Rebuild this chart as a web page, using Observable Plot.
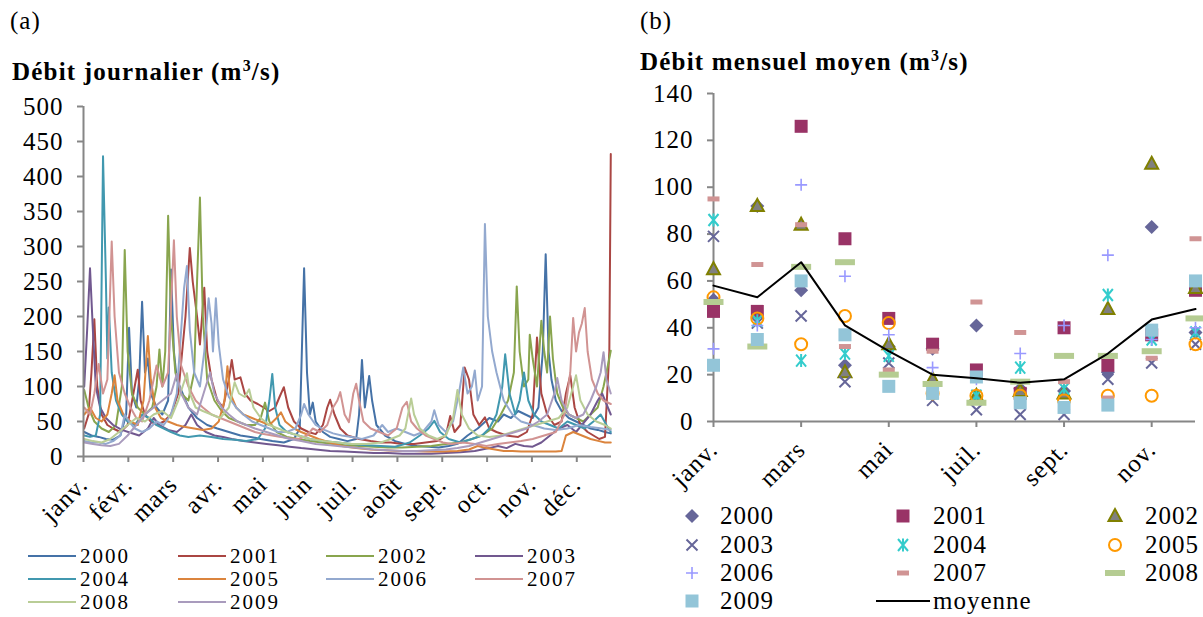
<!DOCTYPE html>
<html><head><meta charset="utf-8">
<script src="https://cdn.jsdelivr.net/npm/d3@7"></script>
<script src="https://cdn.jsdelivr.net/npm/@observablehq/plot@0.6"></script>
<style>
body{margin:0;background:#fff;}
#root{position:relative;width:1203px;height:617px;overflow:hidden;font-family:"Liberation Serif","Times New Roman",serif;color:#000;}
#root svg{position:absolute;}
</style></head><body><div id="root"></div>
<script>
// ---------- Panel (a): daily discharge, [day index, m3/s] ----------
const monthsA = ["janv.","févr.","mars","avr.","mai","juin","juil.","août","sept.","oct.","nov.","déc."];
const dayTicks = [0,31,62,93,124,155,186,217,248,279,310,341];
const years = ["2000","2001","2002","2003","2004","2005","2006","2007","2008","2009"];

const q2000 = [[0,35],[5,30],[10,28],[15,25],[20,24],[25,30],[29,60],[31,184],[33,90],[36,70],[38,110],[40,221],[42,120],[44,140],[46,90],[50,70],[54,60],[58,80],[60,267],[62,150],[64,110],[68,90],[72,70],[78,55],[85,45],[92,40],[100,35],[108,30],[115,28],[122,25],[130,22],[138,20],[145,25],[149,40],[152,269],[154,120],[156,60],[158,77],[160,50],[165,35],[170,28],[176,25],[182,22],[188,25],[190,60],[192,138],[194,70],[197,115],[199,80],[202,45],[208,30],[215,22],[222,18],[230,15],[238,14],[245,13],[252,15],[258,18],[265,30],[272,40],[280,55],[286,50],[290,60],[295,55],[300,65],[305,60],[310,55],[314,70],[317,150],[319,289],[321,150],[323,110],[326,80],[330,65],[335,55],[340,50],[345,45],[350,40],[355,38],[360,35],[364,33]];
const q2001 = [[0,40],[3,60],[5,120],[7,196],[9,100],[12,60],[16,45],[20,40],[25,35],[30,45],[34,90],[37,124],[39,80],[42,60],[46,50],[50,45],[55,50],[60,60],[65,90],[70,200],[73,298],[75,250],[78,200],[80,160],[83,241],[85,150],[88,110],[92,80],[96,70],[100,110],[102,138],[104,110],[108,113],[111,90],[115,80],[120,75],[124,70],[128,65],[132,70],[135,85],[138,99],[141,70],[145,50],[150,40],[155,35],[160,32],[165,45],[168,70],[170,81],[173,60],[177,40],[182,30],[190,25],[198,22],[205,20],[212,20],[220,18],[228,18],[236,20],[244,22],[250,30],[253,58],[256,35],[260,45],[263,127],[266,110],[269,60],[273,45],[277,56],[280,40],[285,35],[292,30],[300,28],[306,35],[310,60],[313,170],[316,90],[320,60],[325,45],[330,50],[333,90],[336,116],[339,70],[343,45],[348,35],[352,30],[356,25],[360,28],[363,150],[364,432]];
const q2002 = [[0,95],[3,70],[7,50],[12,40],[17,35],[22,45],[26,100],[28,295],[30,150],[33,90],[37,70],[42,60],[47,70],[50,100],[52,153],[54,100],[56,150],[58,344],[60,200],[63,120],[67,90],[72,80],[76,120],[78,250],[80,370],[82,200],[85,110],[90,80],[95,65],[100,55],[106,50],[112,45],[118,45],[122,55],[125,77],[128,50],[133,35],[140,28],[148,25],[156,22],[164,20],[172,18],[180,16],[190,15],[200,14],[210,13],[220,13],[230,14],[240,15],[250,18],[260,20],[268,25],[275,30],[282,40],[288,60],[293,80],[297,120],[299,243],[301,150],[304,100],[307,110],[308,174],[310,140],[313,100],[316,194],[318,150],[320,120],[322,200],[324,140],[327,90],[331,70],[335,60],[340,55],[345,50],[350,60],[355,70],[359,100],[362,130],[364,151]];
const q2003 = [[0,100],[2,180],[4,269],[6,180],[8,100],[11,70],[15,55],[20,45],[26,38],[32,34],[38,30],[44,40],[48,55],[52,45],[58,38],[64,35],[70,45],[74,60],[78,45],[84,35],[90,30],[96,28],[102,25],[110,22],[118,20],[126,18],[134,16],[142,14],[150,12],[160,10],[170,8],[180,7],[190,6],[200,5],[210,5],[220,4],[230,4],[240,4],[250,5],[260,6],[270,8],[280,12],[286,15],[292,12],[298,18],[304,15],[310,14],[316,20],[322,30],[328,40],[334,45],[340,35],[346,50],[350,60],[355,80],[358,90],[362,70],[364,60]];
const q2004 = [[0,30],[4,28],[8,30],[11,60],[13,429],[15,250],[16,140],[17,213],[19,120],[22,80],[26,60],[30,50],[35,45],[40,60],[45,55],[50,45],[55,40],[60,35],[66,30],[72,28],[80,30],[88,28],[96,25],[104,24],[112,22],[120,25],[125,40],[128,80],[130,118],[132,70],[135,45],[140,35],[148,30],[156,25],[165,22],[175,20],[185,18],[195,16],[205,15],[215,14],[225,20],[232,30],[238,40],[242,51],[246,35],[252,25],[260,20],[268,25],[275,30],[280,40],[285,60],[289,100],[291,146],[294,90],[298,60],[301,80],[304,120],[307,80],[311,60],[316,50],[322,45],[328,40],[334,50],[340,45],[346,40],[352,50],[357,60],[361,45],[364,35]];
const q2005 = [[0,60],[4,70],[8,55],[12,50],[16,60],[19,90],[21,116],[23,80],[27,60],[32,50],[37,45],[41,80],[44,172],[46,110],[49,70],[53,55],[58,50],[64,45],[70,42],[76,40],[82,38],[88,40],[93,50],[97,80],[99,129],[101,90],[105,70],[110,60],[116,55],[122,50],[128,45],[133,55],[136,63],[139,50],[145,40],[150,35],[156,30],[162,25],[170,20],[178,15],[188,12],[198,10],[208,9],[218,8],[228,8],[238,7],[248,7],[258,8],[266,10],[272,15],[278,12],[284,10],[290,8],[296,8],[302,7],[308,7],[314,7],[320,7],[326,7],[330,8],[333,30],[338,35],[344,30],[350,25],[356,22],[360,20],[364,20]];
const q2006 = [[0,22],[5,20],[10,20],[15,18],[20,22],[25,30],[28,60],[31,50],[35,40],[40,35],[45,40],[50,50],[55,45],[60,60],[64,90],[67,180],[69,240],[71,272],[73,180],[76,120],[80,100],[83,150],[86,226],[88,190],[89,150],[91,226],[93,160],[96,110],[100,85],[105,70],[110,60],[116,50],[122,45],[128,40],[134,35],[140,35],[146,40],[150,60],[152,75],[155,60],[160,45],[166,38],[172,33],[178,30],[185,28],[192,25],[200,30],[206,45],[210,35],[216,40],[222,35],[228,30],[234,35],[240,50],[242,66],[245,45],[250,35],[255,50],[259,90],[262,127],[265,90],[268,100],[270,123],[272,80],[275,100],[277,332],[279,200],[282,150],[285,120],[290,80],[296,60],[302,50],[310,45],[318,40],[326,38],[334,40],[342,45],[350,42],[358,40],[364,38]];
const q2007 = [[0,70],[4,60],[7,90],[10,132],[13,90],[16,110],[19,307],[21,200],[24,120],[28,90],[32,70],[36,55],[40,50],[45,80],[50,130],[54,100],[58,120],[62,309],[64,200],[67,130],[72,100],[77,80],[82,70],[88,60],[94,55],[100,50],[106,45],[112,40],[118,35],[124,32],[130,30],[136,28],[142,26],[148,25],[154,30],[158,40],[163,35],[168,45],[172,70],[175,80],[177,92],[180,60],[183,49],[186,90],[188,104],[190,80],[193,50],[198,40],[204,35],[210,30],[216,40],[220,70],[223,78],[226,50],[230,40],[236,30],[242,25],[248,20],[254,18],[262,20],[270,18],[278,15],[286,18],[294,20],[302,22],[310,25],[318,30],[326,35],[332,60],[336,120],[338,198],[340,150],[342,177],[344,190],[346,212],[348,150],[351,110],[355,90],[359,80],[364,75]];
const q2008 = [[0,25],[6,22],[12,20],[18,25],[24,35],[30,45],[36,55],[42,50],[48,60],[54,65],[60,55],[65,80],[68,100],[71,119],[73,90],[77,70],[82,65],[88,60],[94,55],[100,70],[104,106],[107,90],[111,85],[114,96],[117,70],[122,55],[128,45],[134,40],[140,35],[148,30],[156,25],[165,22],[175,20],[185,18],[195,18],[205,20],[212,25],[218,30],[222,40],[226,83],[228,60],[232,40],[238,30],[244,25],[250,30],[255,55],[258,95],[261,60],[266,40],[272,30],[280,28],[288,30],[296,35],[304,40],[312,45],[320,50],[328,55],[334,70],[338,100],[340,116],[343,80],[348,60],[354,50],[360,45],[364,40]];
const q2009 = [[0,20],[6,18],[12,16],[18,15],[24,18],[30,30],[36,45],[42,60],[48,70],[54,80],[60,90],[64,118],[67,90],[72,70],[78,60],[84,100],[87,120],[90,90],[95,70],[100,60],[106,50],[112,45],[118,40],[126,35],[134,30],[142,25],[150,22],[160,18],[170,16],[180,14],[190,12],[200,10],[210,9],[220,8],[230,8],[240,9],[250,10],[258,12],[266,15],[274,20],[282,25],[290,30],[298,35],[306,40],[314,50],[320,60],[325,90],[327,112],[330,80],[335,60],[340,55],[345,60],[350,80],[354,100],[357,120],[359,149],[361,110],[364,90]];
const dailySeries = [q2000,q2001,q2002,q2003,q2004,q2005,q2006,q2007,q2008,q2009];
const lineColors = ["#4572A7","#AA4643","#89A54E","#71588F","#4198AF","#DB843D","#93A9CF","#D19392","#B9CD96","#A99BBD"];
const yTicksA = [0,50,100,150,200,250,300,350,400,450,500];

// ---------- Panel (b): monthly mean discharge ----------
const monthTicksB = [1,3,5,7,9,11];
const monthLabelsB = ["janv.","mars","mai","juil.","sept.","nov."];
const yTicksB = [0,20,40,60,80,100,120,140];
const m2000 = [52,92,56,24,32,31,41,14,13,21,83,38];
const m2001 = [47,47,126,78,44,33,22,12,40,24,37,56];
const m2002 = [65,92,84,21,33,18,11,13,12,48,110,57];
const m2003 = [79,42,45,17,25,9,5,3,3,18,25,33];
const m2004 = [86,43,26,29,28,12,11,23,14,54,35,38];
const m2005 = [53,44,33,45,42,12,11,11,9,11,11,33];
const m2006 = [31,41,101,62,37,23,18,29,41,71,35,40];
const m2007 = [95,67,84,32,22,30,51,38,17,10,27,78];
const m2008 = [51,32,66,68,20,16,8,17,28,28,30,44];
const m2009 = [24,35,60,37,15,12,19,8,6,7,39,60];
const moyenne = [58,53,68,41,30,20,18.5,16.5,18,29,43.5,48];
const monthlySeries = [m2000,m2001,m2002,m2003,m2004,m2005,m2006,m2007,m2008,m2009];

// ---------- marker symbols (styles) ----------
const symDiamond = {draw(c){c.moveTo(0,-7);c.lineTo(7,0);c.lineTo(0,7);c.lineTo(-7,0);c.closePath();}};
const symSquare = {draw(c){c.rect(-6.5,-6.5,13,13);}};
const symTriangle = {draw(c){c.moveTo(0,-7);c.lineTo(6.5,5);c.lineTo(-6.5,5);c.closePath();}};
const symTimes = {draw(c){c.moveTo(-5.5,-5.5);c.lineTo(5.5,5.5);c.moveTo(5.5,-5.5);c.lineTo(-5.5,5.5);}};
const symAsterisk = {draw(c){c.moveTo(-5,-6);c.lineTo(5,6);c.moveTo(5,-6);c.lineTo(-5,6);c.moveTo(0,-6.5);c.lineTo(0,6.5);}};
const symCircle = {draw(c){c.moveTo(6,0);c.arc(0,0,6,0,2*Math.PI);}};
const symPlus = {draw(c){c.moveTo(-6,0);c.lineTo(6,0);c.moveTo(0,-6);c.lineTo(0,6);}};
const symDash = {draw(c){c.rect(-6,-2.5,12,5);}};
const symBar = {draw(c){c.rect(-10,-3,20,6);}};
const markerStyles = [
  {sym:symDiamond, fill:"#666699", stroke:"none", sw:0},
  {sym:symSquare, fill:"#993366", stroke:"none", sw:0},
  {sym:symTriangle, fill:"#808080", stroke:"#808000", sw:2},
  {sym:symTimes, fill:"none", stroke:"#666699", sw:2},
  {sym:symAsterisk, fill:"none", stroke:"#33CCCC", sw:2},
  {sym:symCircle, fill:"none", stroke:"#FF9900", sw:2},
  {sym:symPlus, fill:"none", stroke:"#9999FF", sw:1.6},
  {sym:symDash, fill:"#D09494", stroke:"none", sw:0},
  {sym:symBar, fill:"#B5CC92", stroke:"none", sw:0},
  {sym:symSquare, fill:"#93C5D8", stroke:"none", sw:0}
];

const AXIS = "#868686";
const SERIF = "'Liberation Serif','Times New Roman',serif";
const FONT = {fontFamily: SERIF, fontSize:"25px", letterSpacing:"1px", color:"#000", background:"transparent", overflow:"visible"};

const root = document.getElementById("root");

// Panel (a)
const plotA = Plot.plot({
  width: 615, height: 450,
  marginLeft: 83, marginRight: 4, marginTop: 16, marginBottom: 84,
  style: FONT,
  x: {domain: [0, 365], axis: null},
  y: {domain: [0, 500], axis: null},
  marks: [
    ...dailySeries.map((s, i) => Plot.line(s, {x: d => d[0] + 0.5, y: d => d[1], stroke: lineColors[i], strokeWidth: 2})),
    Plot.ruleX([0], {stroke: AXIS, strokeWidth: 2}),
    Plot.ruleY([0], {stroke: AXIS, strokeWidth: 2}),
    Plot.axisY({ticks: yTicksA, tickSize: 6, tickPadding: 14, stroke: AXIS, strokeWidth: 2, label: null}),
    Plot.axisX({ticks: dayTicks, tickFormat: d => monthsA[dayTicks.indexOf(d)], tickRotate: -45, tickSize: 6, tickPadding: 18, stroke: AXIS, strokeWidth: 2, label: null})
  ]
});
plotA.style.left = "0px"; plotA.style.top = "90px";
root.appendChild(plotA);

// Panel (b)
const plotB = Plot.plot({
  width: 583, height: 410,
  marginLeft: 93, marginRight: 8, marginTop: 13, marginBottom: 69,
  style: FONT,
  x: {domain: [1, 12], axis: null},
  y: {domain: [0, 140], axis: null},
  marks: [
    Plot.ruleX([1], {stroke: AXIS, strokeWidth: 2}),
    Plot.ruleY([0], {stroke: AXIS, strokeWidth: 2}),
    Plot.axisY({ticks: yTicksB, tickSize: 6, tickPadding: 14, stroke: AXIS, strokeWidth: 2, label: null}),
    Plot.axisX({ticks: monthTicksB, tickFormat: d => monthLabelsB[monthTicksB.indexOf(d)], tickRotate: -45, tickSize: 6, tickPadding: 18, stroke: AXIS, strokeWidth: 2, label: null}),
    ...monthlySeries.map((s, i) => Plot.dot(s.map((v, k) => ({m: k + 1, v})), {
      x: "m", y: "v", symbol: markerStyles[i].sym, r: 6,
      fill: markerStyles[i].fill, stroke: markerStyles[i].stroke, strokeWidth: markerStyles[i].sw
    })),
    Plot.line(moyenne.map((v, k) => ({m: k + 1, v})), {x: "m", y: "v", stroke: "#000", strokeWidth: 2})
  ]
});
plotB.style.left = "620px"; plotB.style.top = "80px";
root.appendChild(plotB);

// Overlay: panel letters, titles, legends
const ov = d3.select(root).append("svg").attr("width", 1203).attr("height", 617)
  .style("left", "0px").style("top", "0px")
  .attr("font-family", SERIF).attr("font-size", 25).attr("letter-spacing", "1px");
ov.append("text").attr("x", 10).attr("y", 29).text("(a)");
ov.append("text").attr("x", 640).attr("y", 29).text("(b)");
function title(x, y, s) {
  const t = ov.append("text").attr("x", x).attr("y", y).attr("font-weight", "bold").attr("letter-spacing", "1.2px");
  t.append("tspan").text(s + " (m");
  t.append("tspan").attr("font-size", 16).attr("dy", -9).text("3");
  t.append("tspan").attr("dy", 9).text("/s)");
}
title(12, 80, "Débit journalier");
title(640, 70, "Débit mensuel moyen");

// Legend (a)
const colA = [28, 178, 326, 475];
const rowA = [556, 579, 602];
years.forEach((yr, i) => {
  const cx = colA[i % 4], cy = rowA[Math.floor(i / 4)];
  ov.append("line").attr("x1", cx).attr("x2", cx + 48).attr("y1", cy).attr("y2", cy)
    .attr("stroke", lineColors[i]).attr("stroke-width", 2);
  ov.append("text").attr("x", cx + 52).attr("y", cy + 7).attr("font-size", 21).attr("letter-spacing", "2px").text(yr);
});

// Legend (b)
const colBm = [692, 903, 1115];
const colBt = [720, 933, 1145];
const rowB = [516, 545, 573, 601];
years.forEach((yr, i) => {
  const c = i % 3, r = Math.floor(i / 3);
  const st = markerStyles[i];
  const p = d3.path(); st.sym.draw(p);
  ov.append("path").attr("d", p.toString()).attr("transform", `translate(${colBm[c]},${rowB[r]})`)
    .attr("fill", st.fill).attr("stroke", st.stroke).attr("stroke-width", st.sw);
  ov.append("text").attr("x", colBt[c]).attr("y", rowB[r] + 8).text(yr);
});
ov.append("line").attr("x1", 876).attr("x2", 930).attr("y1", rowB[3]).attr("y2", rowB[3]).attr("stroke", "#000").attr("stroke-width", 2);
ov.append("text").attr("x", colBt[1]).attr("y", rowB[3] + 8).text("moyenne");
</script></body></html>
